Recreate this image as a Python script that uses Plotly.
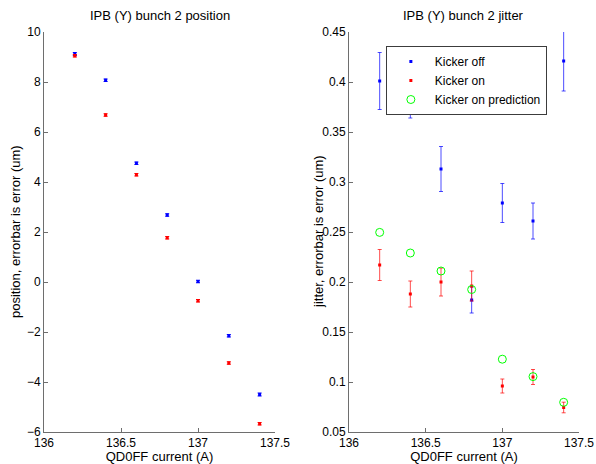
import plotly.graph_objects as go

current = [136.2, 136.4, 136.6, 136.8, 137.0, 137.2, 137.4]

pos_off = [9.12, 8.07, 4.75, 2.68, 0.02, -2.15, -4.50]
pos_off_err = [0.06, 0.05, 0.05, 0.05, 0.05, 0.05, 0.06]
pos_on = [9.05, 6.68, 4.29, 1.77, -0.75, -3.24, -5.67]
pos_on_err = [0.05, 0.05, 0.05, 0.05, 0.05, 0.05, 0.05]

jit_off = [0.401, 0.392, 0.313, 0.182, 0.279, 0.261, 0.421]
jit_off_err = [0.0285, 0.028, 0.0225, 0.013, 0.0195, 0.018, 0.030]
jit_on = [0.217, 0.188, 0.200, 0.196, 0.096, 0.105, 0.0745]
jit_on_err = [0.0155, 0.013, 0.014, 0.015, 0.007, 0.0075, 0.0053]
jit_pred = [0.2496, 0.229, 0.211, 0.1925, 0.1228, 0.1054, 0.0797]

x_ticks = [136, 136.5, 137, 137.5]
x_ticklabels = ["136", "136.5", "137", "137.5"]
pos_ticks = [-6, -4, -2, 0, 2, 4, 6, 8, 10]
jit_ticks = [0.05, 0.1, 0.15, 0.2, 0.25, 0.3, 0.35, 0.4, 0.45]
jit_ticklabels = ["0.05", "0.1", "0.15", "0.2", "0.25", "0.3", "0.35", "0.4", "0.45"]

BLUE = "rgb(0,0,255)"
RED = "rgb(255,0,0)"
GREEN = "rgb(0,255,0)"
FONT = "Liberation Sans, Arial, sans-serif"

fig = go.Figure()

# Left: position
fig.add_trace(go.Scatter(
    x=current, y=pos_off, mode="markers", xaxis="x", yaxis="y",
    marker=dict(color=BLUE, size=3, symbol="square"),
    error_y=dict(type="data", array=pos_off_err, color=BLUE, thickness=1, width=2),
    showlegend=False))
fig.add_trace(go.Scatter(
    x=current, y=pos_on, mode="markers", xaxis="x", yaxis="y",
    marker=dict(color=RED, size=3, symbol="square"),
    error_y=dict(type="data", array=pos_on_err, color=RED, thickness=1, width=2),
    showlegend=False))

# Right: jitter
fig.add_trace(go.Scatter(
    x=current, y=jit_off, mode="markers", xaxis="x2", yaxis="y2", name="Kicker off",
    marker=dict(color=BLUE, size=3, symbol="square"),
    error_y=dict(type="data", array=jit_off_err, color="rgba(0,0,255,0.7)", thickness=1, width=2)))
fig.add_trace(go.Scatter(
    x=current, y=jit_on, mode="markers", xaxis="x2", yaxis="y2", name="Kicker on",
    marker=dict(color=RED, size=3, symbol="square"),
    error_y=dict(type="data", array=jit_on_err, color="rgba(255,0,0,0.7)", thickness=1, width=2)))
fig.add_trace(go.Scatter(
    x=current, y=jit_pred, mode="markers", xaxis="x2", yaxis="y2", name="Kicker on prediction",
    marker=dict(color=GREEN, size=8, symbol="circle-open", line=dict(width=1))))

title_font = dict(family=FONT, size=13, color="black")

axis_common = dict(
    showline=True, linecolor="rgb(110,110,110)", linewidth=1,
    ticks="inside", ticklen=4, tickcolor="rgb(110,110,110)", tickwidth=1,
    showgrid=False, zeroline=False, mirror=False, automargin=False,
    tickfont=dict(family=FONT, size=12, color="black"),
)

fig.update_layout(
    template="none",
    width=596, height=464,
    margin=dict(l=44, r=17, t=32, b=32),
    paper_bgcolor="white", plot_bgcolor="white",
    font=dict(family=FONT, size=12, color="black"),
    xaxis=dict(domain=[0, 0.4318], range=[136, 137.5], tickvals=x_ticks, ticktext=x_ticklabels,
               anchor="y", title=dict(text="QD0FF current (A)", standoff=6, font=title_font),
               **axis_common),
    yaxis=dict(domain=[0, 1], range=[-6, 10], tickvals=pos_ticks, anchor="x", **axis_common),
    xaxis2=dict(domain=[0.5701, 1], range=[136, 137.5], tickvals=x_ticks, ticktext=x_ticklabels,
                anchor="y2", title=dict(text="QD0FF current (A)", standoff=6, font=title_font),
                **axis_common),
    yaxis2=dict(domain=[0, 1], range=[0.05, 0.45], tickvals=jit_ticks, ticktext=jit_ticklabels,
                anchor="x2", **axis_common),
    legend=dict(x=0.639, y=0.965, xanchor="left", yanchor="top",
                bordercolor="rgb(60,60,60)", borderwidth=1, bgcolor="white",
                font=dict(family=FONT, size=12, color="black"), itemwidth=38,
                tracegroupgap=0),
    annotations=[
        dict(text="IPB (Y) bunch 2 position", x=0.2159, y=1, xref="paper", yref="paper",
             xanchor="center", yanchor="bottom", yshift=7, showarrow=False, font=title_font),
        dict(text="IPB (Y) bunch 2 jitter", x=0.785, y=1, xref="paper", yref="paper",
             xanchor="center", yanchor="bottom", yshift=7, showarrow=False, font=title_font),
        dict(text="position, errorbar is error (um)", x=0, y=0.5, xref="paper", yref="paper",
             xanchor="center", yanchor="middle", xshift=-29, textangle=-90,
             showarrow=False, font=title_font),
        dict(text="jitter, errorbar is error (um)", x=0.5701, y=0.5, xref="paper", yref="paper",
             xanchor="center", yanchor="middle", xshift=-31, textangle=-90,
             showarrow=False, font=title_font),
    ],
)

fig.write_html(
    "out.html",
    config={"displayModeBar": False},
    post_script="document.body.style.margin='0';document.documentElement.style.overflow='hidden';",
)
